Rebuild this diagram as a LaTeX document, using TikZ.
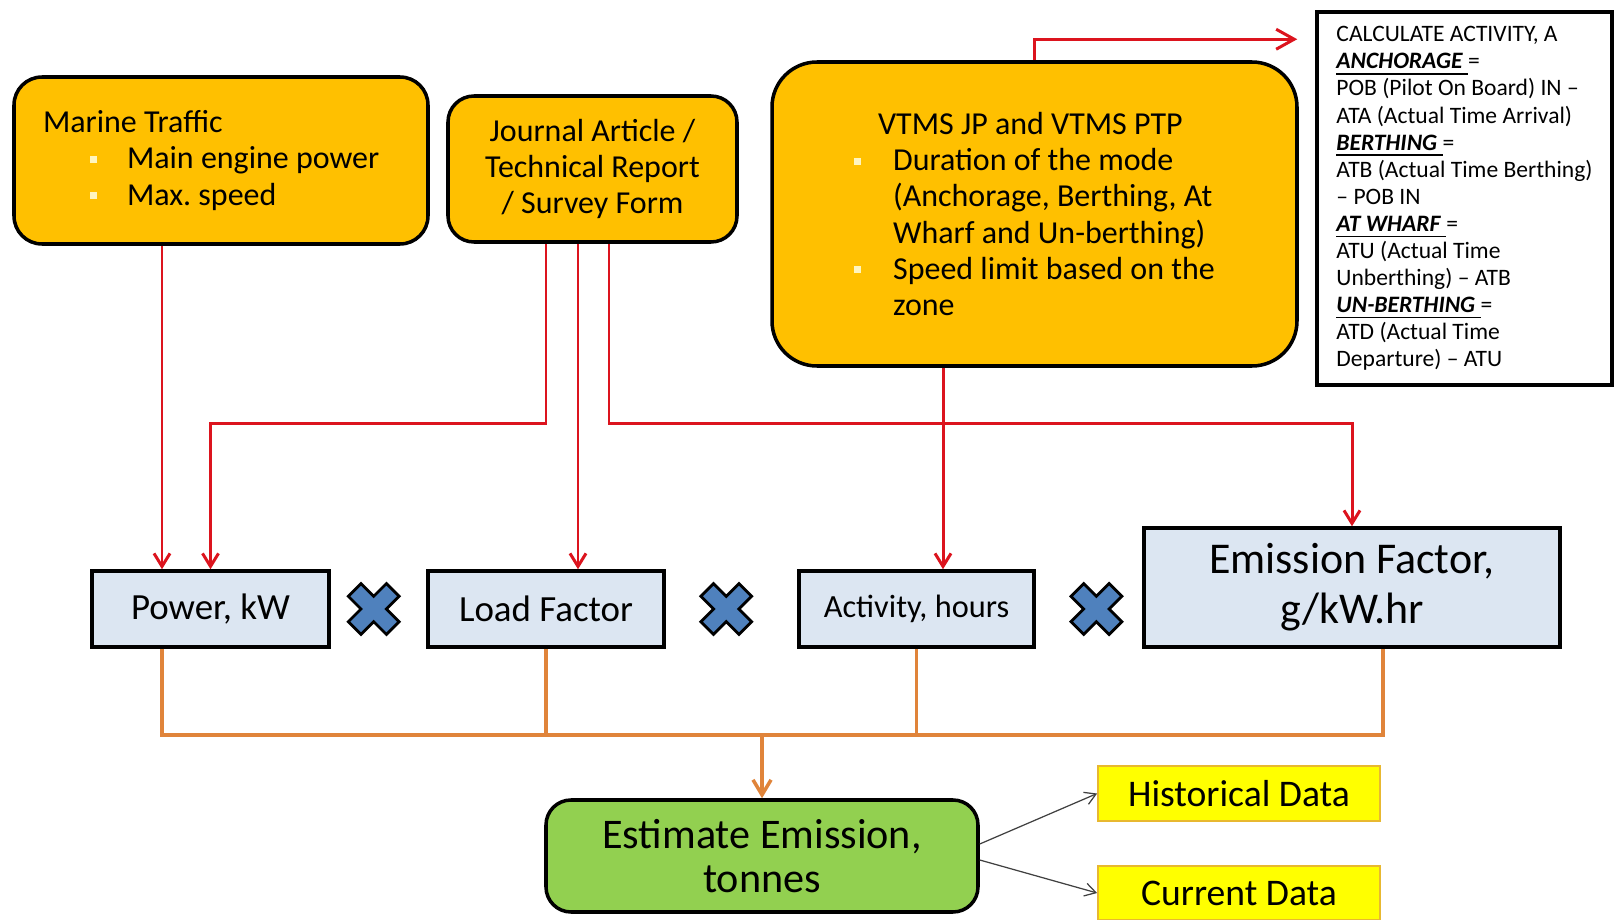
\documentclass[tikz,border=0pt]{standalone}
\usepackage{fontspec}
\setmainfont{Carlito}
\usepackage{xcolor}
\usepackage{tikz}
\usetikzlibrary{arrows.meta}
\usetikzlibrary{positioning, calc}
\definecolor{boxyellow}{HTML}{FFC000}
\definecolor{boxblue}{HTML}{DCE6F2}
\definecolor{boxgreen}{HTML}{92D050}
\definecolor{datayellow}{HTML}{FFFF00}
\definecolor{dataedge}{HTML}{E8B830}
\definecolor{bulletpale}{HTML}{FFF5C0}
\definecolor{flowred}{HTML}{DC141E}
\definecolor{floworange}{HTML}{E0843A}
\definecolor{crossblue}{HTML}{4F81BD}
\frenchspacing
\newcommand{\sqbullet}{\textcolor{bulletpale}{\rule[0.18em]{0.7mm}{0.7mm}}}
\newcommand{\modehead}[1]{\underline{\textbf{\textit{#1}}~}=}
\tikzset{
source box/.style = { rectangle, draw = black, line width = 1pt, fill = boxyellow, rounded corners = 2.8mm, align = left, font = \fontsize{9.1pt}{10.25pt}\selectfont },
calc box/.style = { rectangle, draw = black, line width = 1pt, fill = white, align = left, font = \fontsize{6.7pt}{7.7pt}\selectfont },
factor box/.style = { rectangle, draw = black, line width = 1pt, fill = boxblue, align = center, font = \fontsize{10.5pt}{12pt}\selectfont },
result box/.style = { rectangle, draw = black, line width = 1pt, fill = boxgreen, rounded corners = 2.5mm, align = center, font = \fontsize{12pt}{12.5pt}\selectfont },
data box/.style = { rectangle, draw = dataedge, line width = 0.5pt, fill = datayellow, font = \fontsize{10.7pt}{12pt}\selectfont },
red flow/.style = { draw = flowred, line width = 0.85pt, -{Straight Barb[length = 1.3mm, width = 1.6mm]} },
orange flow/.style = { draw = floworange, line width = 1pt },
thin flow/.style = { draw = black!75, line width = 0.35pt, -{Straight Barb[length = 1.1mm, width = 1.3mm]} },
}
\tikzset{
pics/times sign/.style = {
        code = {
        \path[draw = black, fill = #1, line width = 0.8pt, rotate = 45] (-9, -27) -- (9, -27) -- (9, -9) -- (27, -9) -- (27, 9) -- (9, 9) -- (9, 27) -- (-9, 27) -- (-9, 9) -- (-27, 9) -- (-27, -9) -- (-9, -9) -- cycle;
        }
    }
}
\begin{document}
\begin{tikzpicture}[x = 0.1mm, y = -0.1mm]
    \path[use as bounding box, fill = white] (0, 0) rectangle (1614, 920);
    \node[source box, align = flush left, minimum width = 41.4mm, minimum height = 16.7mm, inner xsep = 2.9mm, text width = 35.6mm] (marine) at (221, 160.5) {Marine Traffic\\
        \hspace*{4.7mm}\sqbullet\hspace*{3mm}Main engine power\\
        \hspace*{4.7mm}\sqbullet\hspace*{3mm}Max. speed};
    \node[source box, align = center, minimum width = 28.9mm, minimum height = 14.6mm, rounded corners = 2.6mm] (journal) at (592.5, 169) {Journal Article /\\Technical Report\\/ Survey Form};
    \node[source box, minimum width = 52.5mm, minimum height = 30.4mm, rounded corners = 4.5mm] (vtms) at (1034.5, 214) {\hspace*{2.4mm}VTMS JP and VTMS PTP\\
        \sqbullet\hspace*{3.2mm}Duration of the mode\\
        \hspace*{3.9mm}(Anchorage, Berthing, At\\
        \hspace*{3.9mm}Wharf and Un-berthing)\\
        \sqbullet\hspace*{3.2mm}Speed limit based on the\\
        \hspace*{3.9mm}zone};
    \node[calc box, minimum width = 29.5mm, minimum height = 37.3mm] (calc) at (1464.5, 198.5) {CALCULATE ACTIVITY, A\\
        \modehead{ANCHORAGE}\\
        POB (Pilot On Board) IN --\\
        ATA (Actual Time Arrival)\\
        \modehead{BERTHING}\\
        ATB (Actual Time Berthing)\\
        -- POB IN\\
        \modehead{AT WHARF}\\
        ATU (Actual Time\\
        Unberthing) -- ATB\\
        \modehead{UN-BERTHING}\\
        ATD (Actual Time\\
        Departure) -- ATU};
    \node[factor box, minimum width = 23.7mm, minimum height = 7.6mm] (power) at (210.5, 609) {Power, kW};
    \node[factor box, minimum width = 23.6mm, minimum height = 7.6mm] (loadf) at (546, 609) {Load Factor};
    \node[factor box, minimum width = 23.5mm, minimum height = 7.6mm, font = \fontsize{9.2pt}{11pt}\selectfont] (activity) at (916.5, 609) {Activity, hours};
    \node[factor box, minimum width = 41.6mm, minimum height = 11.9mm, font = \fontsize{12.5pt}{14.3pt}\selectfont] (emis) at (1352, 587.5) {Emission Factor,\\g/kW.hr};
    \node[result box, minimum width = 43.2mm, minimum height = 11.2mm] (green) at (762, 856) {Estimate Emission,\\tonnes};
    \node[data box, minimum width = 28.2mm, minimum height = 5.5mm] (hist) at (1239, 793.5) {Historical Data};
    \node[data box, minimum width = 28.2mm, minimum height = 5.4mm] (cur) at (1239, 893) {Current Data};
    \draw ($(power.east)!0.45!(loadf.west)$) pic{times sign = crossblue};
    \draw ($(loadf.east)!0.46!(activity.west)$) pic{times sign = crossblue};
    \draw ($(activity.east)!0.57!(activity.east -| emis.west)$) pic{times sign = crossblue};
    \coordinate (pwin) at ([xshift = -4.85mm]power.north);
    \coordinate (pwout) at ([xshift = -4.85mm]power.south);
    \coordinate (jleft) at ([xshift = -4.65mm]journal.south);
    \coordinate (lfin) at ([xshift = -1.45mm]journal.south);
    \coordinate (jright) at ([xshift = 1.65mm]journal.south);
    \coordinate (actin) at ([xshift = -9.15mm]vtms.south);
    \coordinate (efout) at ([xshift = 3.1mm]emis.south);
    \coordinate (bus) at ([yshift = 6.3mm]green.north);
    \draw[red flow] (marine.south -| pwin) -- (pwin);
    \draw[red flow] (jleft) -- ++(0, 180) -| (power.north);
    \draw[red flow] (lfin) -- (lfin |- loadf.north);
    \draw[red flow] (jright) -- ++(0, 180) -| (emis.north);
    \draw[red flow] (actin) -- (actin |- activity.north);
    \draw[red flow, -{Straight Barb[length = 1.8mm, width = 2mm]}] (vtms.north) |- ([shift = {(-18, 29)}]calc.north west);
    \draw[orange flow] (pwout) |- (bus) -| (efout);
    \draw[orange flow] (loadf.south) -- (loadf.south |- bus);
    \draw[orange flow] (activity.south) -- (activity.south |- bus);
    \draw[orange flow, -{Straight Barb[length = 1.5mm, width = 1.8mm]}] (bus) -- (green.north);
    \draw[thin flow] ([yshift = 1.2mm]green.east) -- (hist.west);
    \draw[thin flow] ([yshift = -0.4mm]green.east) -- (cur.west);
  \end{tikzpicture}
\end{document}
